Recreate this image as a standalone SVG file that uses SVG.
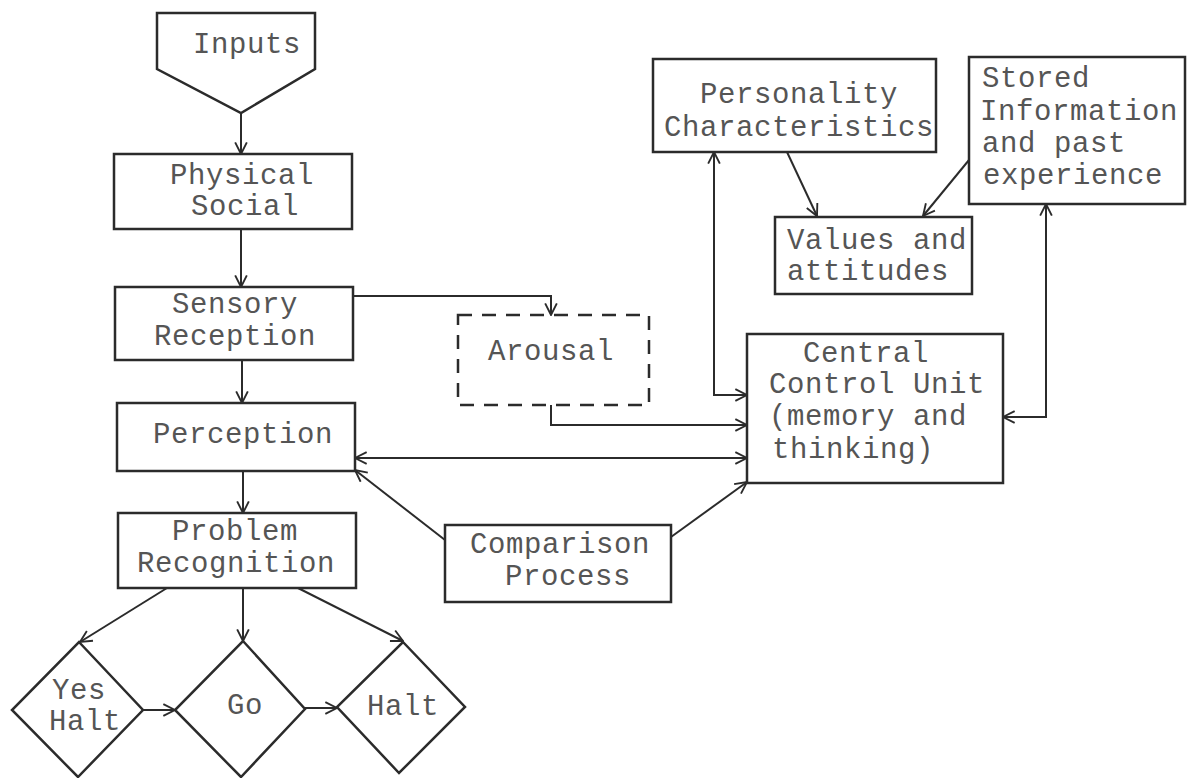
<svg xmlns="http://www.w3.org/2000/svg" width="1190" height="778" viewBox="0 0 1190 778">
<style>
.box{fill:none;stroke:#2b2b2b;stroke-width:2.5}
.dash{fill:none;stroke:#2b2b2b;stroke-width:2.5;stroke-dasharray:14 10}
.c{fill:none;stroke:#2b2b2b;stroke-width:2}
.a{marker-end:url(#ah)}
.b{marker-start:url(#ah);marker-end:url(#ah)}
text{font-family:"Liberation Mono","Courier New",monospace;font-size:29px;letter-spacing:0.6px;fill:#555}
</style>
<defs>
<marker id="ah" viewBox="0 0 12 12" refX="11" refY="6" markerWidth="14" markerHeight="14" markerUnits="userSpaceOnUse" orient="auto-start-reverse">
<path d="M1,1 L11,6 L1,11" fill="none" stroke="#2b2b2b" stroke-width="1.6"/>
</marker>
</defs>
<rect width="1190" height="778" fill="#fff"/>
<g id="connectors">
<path class="c a" d="M241,113 V154"/>
<path class="c a" d="M241,229 V287"/>
<path class="c a" d="M242,360 V403"/>
<path class="c a" d="M243,471 V513"/>
<path class="c a" d="M167,588 L80,642"/>
<path class="c a" d="M243,588 V641"/>
<path class="c a" d="M298,588 L403,641"/>
<path class="c a" d="M143,710 H175"/>
<path class="c a" d="M305,708 H337"/>
<path class="c a" d="M353,296 H551 V315"/>
<path class="c a" d="M551,405 V425 H747"/>
<path class="c b" d="M714,152 V395 H747"/>
<path class="c b" d="M355,458 H747"/>
<path class="c a" d="M445,540 L355,470"/>
<path class="c a" d="M671,537 L747,482"/>
<path class="c b" d="M1046,204 V417 H1003"/>
<path class="c a" d="M787,152 L817,216"/>
<path class="c a" d="M969,160 L923,216"/>
</g>
<g id="inputs">
<path class="box" d="M157,13 H315 V69 L241,113 L157,69 Z"/>
<text x="193" y="53">Inputs</text>
</g>
<g id="physical">
<rect class="box" x="114" y="154" width="238" height="75"/>
<text x="170" y="184">Physical</text>
<text x="191" y="215">Social</text>
</g>
<g id="sensory">
<rect class="box" x="115" y="287" width="238" height="73"/>
<text x="172" y="313">Sensory</text>
<text x="154" y="345">Reception</text>
</g>
<g id="perception">
<rect class="box" x="117" y="403" width="238" height="68"/>
<text x="153" y="443">Perception</text>
</g>
<g id="problem">
<rect class="box" x="118" y="513" width="238" height="75"/>
<text x="172" y="540">Problem</text>
<text x="137" y="572">Recognition</text>
</g>
<g id="yeshalt">
<path class="box" d="M79,642 L143,710 L78,777 L12,710 Z"/>
<text x="52" y="699">Yes</text>
<text x="49" y="730">Halt</text>
</g>
<g id="go">
<path class="box" d="M243,641 L305,709 L241,777 L175,710 Z"/>
<text x="227" y="714">Go</text>
</g>
<g id="halt">
<path class="box" d="M403,642 L465,707 L399,773 L337,707 Z"/>
<text x="367" y="715">Halt</text>
</g>
<g id="arousal">
<rect class="dash" x="458" y="315" width="191" height="90"/>
<text x="488" y="360">Arousal</text>
</g>
<g id="comparison">
<rect class="box" x="445" y="525" width="226" height="77"/>
<text x="470" y="553">Comparison</text>
<text x="505" y="585">Process</text>
</g>
<g id="ccu">
<rect class="box" x="747" y="334" width="256" height="149"/>
<text x="803" y="362">Central</text>
<text x="769" y="393">Control Unit</text>
<text x="769" y="425">(memory and</text>
<text x="772" y="458">thinking)</text>
</g>
<g id="personality">
<rect class="box" x="653" y="59" width="283" height="93"/>
<text x="700" y="103">Personality</text>
<text x="664" y="136">Characteristics</text>
</g>
<g id="stored">
<rect class="box" x="969" y="57" width="216" height="147"/>
<text x="982" y="87">Stored</text>
<text x="980" y="120">Information</text>
<text x="982" y="152">and past</text>
<text x="983" y="184">experience</text>
</g>
<g id="values">
<rect class="box" x="775" y="217" width="197" height="77"/>
<text x="787" y="249">Values and</text>
<text x="787" y="280">attitudes</text>
</g>
</svg>
